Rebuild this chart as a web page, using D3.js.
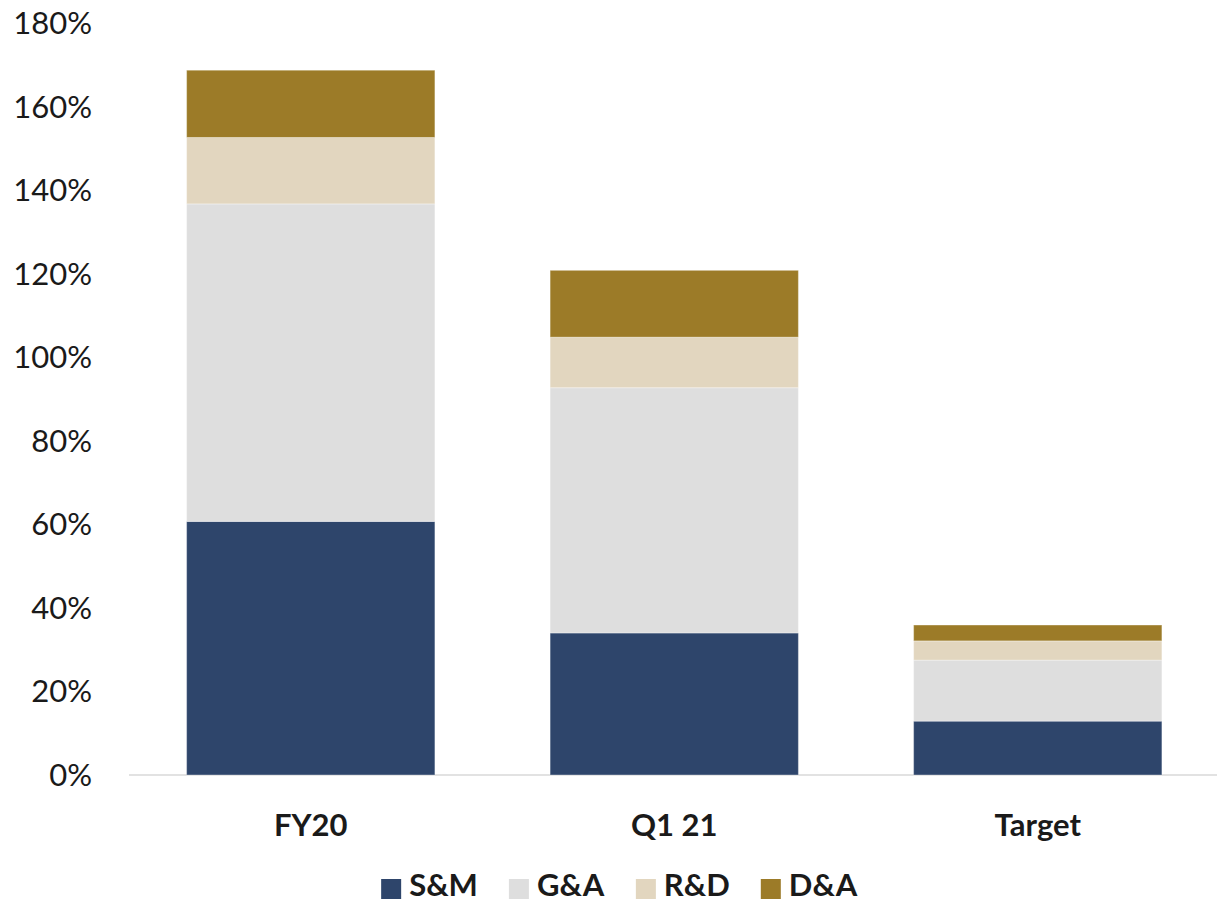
<!DOCTYPE html>
<html>
<head>
<meta charset="utf-8">
<script src="https://cdn.jsdelivr.net/npm/d3@7"></script>
<style>
  html, body { margin: 0; padding: 0; background: #fff; }
  svg { display: block; }
  text { font-family: Lato, "Open Sans", sans-serif; fill: #1a1a1a; }
</style>
</head>
<body>
<svg id="chart" width="1217" height="904"></svg>
<script>
// Cost lines as a share of revenue (%)
const categories = ["FY20", "Q1 21", "Target"];
const seriesNames = ["S&M", "G&A", "R&D", "D&A"];
const smValues = [60.7, 34.0, 12.9];
const gaValues = [76.0, 58.7, 14.6];
const rdValues = [15.9, 12.1, 4.6];
const daValues = [16.1, 16.0, 3.8];
const yTicks = [0, 20, 40, 60, 80, 100, 120, 140, 160, 180];
const colors = ["#2e456b", "#dedede", "#e2d6bf", "#9c7b28"];

const svg = d3.select("#chart");
const width = 1217, height = 904;
const margin = { left: 129, right: 0, top: 23, bottom: 129 };

const rows = categories.map((c, i) => ({
  category: c,
  "S&M": smValues[i],
  "G&A": gaValues[i],
  "R&D": rdValues[i],
  "D&A": daValues[i]
}));

const stack = d3.stack().keys(seriesNames);
const stacked = stack(rows);

const x = d3.scaleBand()
  .domain(categories)
  .range([margin.left, margin.left + 1090.5])
  .paddingInner(0.317)
  .paddingOuter(0.1585);

const y = d3.scaleLinear()
  .domain([0, 180])
  .range([height - margin.bottom, margin.top]);

const color = d3.scaleOrdinal().domain(seriesNames).range(colors);

// Baseline
svg.append("line")
  .attr("x1", margin.left).attr("x2", width)
  .attr("y1", y(0)).attr("y2", y(0))
  .attr("stroke", "#d9d9d9").attr("stroke-width", 1.5);

// Stacked bars
svg.append("g").selectAll("g")
  .data(stacked)
  .join("g")
  .attr("fill", d => color(d.key))
  .selectAll("rect")
  .data(d => d)
  .join("rect")
  .attr("x", d => x(d.data.category))
  .attr("width", x.bandwidth())
  .attr("y", d => y(d[1]))
  .attr("height", d => y(d[0]) - y(d[1]))
  .attr("stroke", "#ffffff")
  .attr("stroke-opacity", 0.35)
  .attr("stroke-width", 1);

// Y axis (labels only)
const yAxis = d3.axisLeft(y)
  .tickValues(yTicks)
  .tickFormat(d => d + "%")
  .tickSize(0)
  .tickPadding(0);
const yg = svg.append("g")
  .attr("transform", `translate(92,0)`)
  .call(yAxis);
yg.select(".domain").remove();
yg.selectAll("text")
  .attr("font-size", 31)
  .attr("font-family", "Lato, sans-serif")
  .attr("fill", "#1a1a1a")
  .attr("dy", "0.34em");

// X axis (labels only)
const xAxis = d3.axisBottom(x).tickSize(0).tickPadding(0);
const xg = svg.append("g")
  .attr("transform", `translate(0,${y(0) + 50})`)
  .call(xAxis);
xg.select(".domain").remove();
xg.selectAll("text")
  .attr("font-size", 31)
  .attr("font-weight", 700)
  .attr("font-family", "Lato, sans-serif")
  .attr("fill", "#1a1a1a")
  .attr("dy", "0.35em");

// Legend
const legend = svg.append("g").attr("transform", "translate(0,885)");
const sq = 20, gapAfterSquare = 8, itemGap = 31;
const items = legend.selectAll("g").data(seriesNames).join("g");
items.append("rect")
  .attr("width", sq).attr("height", sq)
  .attr("y", -6)
  .attr("fill", d => color(d));
items.append("text")
  .attr("x", sq + gapAfterSquare)
  .attr("y", 0)
  .attr("dy", "0.35em")
  .attr("font-size", 31)
  .attr("font-weight", 700)
  .text(d => d);

// Lay out legend items horizontally, centred under the plot
let widths = [];
items.each(function() {
  widths.push(this.getBBox().width);
});
const total = d3.sum(widths) + itemGap * (widths.length - 1);
let cx = (377 + 862) / 2 - total / 2;
items.attr("transform", (d, i) => {
  const t = `translate(${cx},0)`;
  cx += widths[i] + itemGap;
  return t;
});
</script>
</body>
</html>
